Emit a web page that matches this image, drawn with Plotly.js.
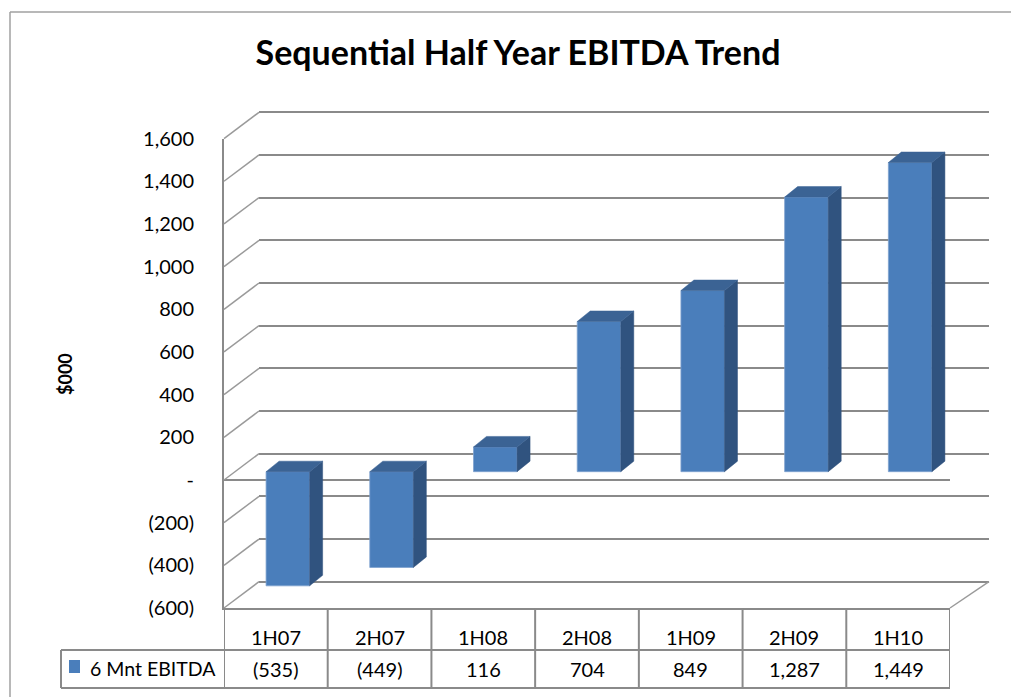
<!DOCTYPE html>
<html>
<head>
<meta charset="utf-8">
<script src="https://cdn.plot.ly/plotly-3.0.1.min.js"></script>
<style>html,body{margin:0;padding:0;background:#fff;}#chart{width:1011px;height:697px;}</style>
</head>
<body>
<div id="chart"></div>
<script>
// ---- data ----
const categories = ['1H07', '2H07', '1H08', '2H08', '1H09', '2H09', '1H10'];
const values = [-535, -449, 116, 704, 849, 1287, 1449];
const valueLabels = ['(535)', '(449)', '116', '704', '849', '1,287', '1,449'];
const tickVals = [-600, -400, -200, 0, 200, 400, 600, 800, 1000, 1200, 1400, 1600];
const tickText = ['(600)', '(400)', '(200)', '-', '200', '400', '600', '800', '1,000', '1,200', '1,400', '1,600'];
const seriesName = '6 Mnt EBITDA';
const chartTitle = 'Sequential Half Year EBITDA Trend';
const yTitle = '$000';

// ---- layout geometry (pixels) ----
const W = 1011, H = 697;
const px = x => x / W;
const py = y => 1 - y / H;
const FONT = 'Lato, "Open Sans", sans-serif';
const GRID = '#8a8a8a';
const yRange = [-600, 1600];
const front = {x0: 224, x1: 950, yb: 608, yt: 138.6};
const back = {x0: 259, x1: 989, yb: 581.7, yt: 112.3};
const mid = {x0: 236, x1: 962, yb: 599.7, yt: 130.3};
const n = categories.length;
const xRange = [-0.5, n - 0.5];

const yPix = (wall, v) => wall.yb - (v - yRange[0]) / (yRange[1] - yRange[0]) * (wall.yb - wall.yt);

// back wall axis slightly padded so the end gridlines are kept
const PAD = 10;
const backRange = [yRange[0] - PAD, yRange[1] + PAD];
const backDomain = [py(yPix(back, backRange[0])), py(yPix(back, backRange[1]))];

// bar depth in data units
const catPx = (mid.x1 - mid.x0) / n;
const unitPx = (mid.yb - mid.yt) / (yRange[1] - yRange[0]);
const DX = 13 / catPx;
const DY = 10.5 / unitPx;
const BW = 0.42;

const xs = categories.map((c, i) => i);

const topX = [], topY = [], sideX = [], sideY = [];
values.forEach((v, i) => {
  const t = Math.max(v, 0), b = Math.min(v, 0);
  const l = i - BW / 2, r = i + BW / 2;
  topX.push(l, r, r + DX, l + DX, l, null);
  topY.push(t, t, t + DY, t + DY, t, null);
  sideX.push(r, r, r + DX, r + DX, r, null);
  sideY.push(t, b, b + DY, t + DY, t, null);
});

const traces = [
  // invisible copy on the back wall so that its grid is drawn
  {type: 'scatter', mode: 'markers', x: xs, y: values, xaxis: 'x2', yaxis: 'y2',
   marker: {opacity: 0, size: 1}, hoverinfo: 'skip'},
  {type: 'bar', x: xs, y: values, width: BW, xaxis: 'x3', yaxis: 'y3',
   marker: {color: '#4a7ebb', line: {color: '#7fa2cf', width: 0.8}}, hoverinfo: 'skip', name: seriesName},
  {type: 'scatter', mode: 'lines', x: sideX, y: sideY, xaxis: 'x3', yaxis: 'y3',
   fill: 'toself', fillcolor: '#30537f', line: {color: '#30537f', width: 0.5}, hoverinfo: 'skip'},
  {type: 'scatter', mode: 'lines', x: topX, y: topY, xaxis: 'x3', yaxis: 'y3',
   fill: 'toself', fillcolor: '#3b6394', line: {color: '#3b6394', width: 0.5}, hoverinfo: 'skip'}
];

const shapes = [];
const annotations = [];
const lineStyle = {color: GRID, width: 2};

// outer border
shapes.push({type: 'line', xref: 'paper', yref: 'paper', x0: px(10), x1: px(1011), y0: py(12), y1: py(12), line: {color: '#a0a0a0', width: 1.5}});
shapes.push({type: 'line', xref: 'paper', yref: 'paper', x0: px(10), x1: px(10), y0: py(12), y1: py(697), line: {color: '#a0a0a0', width: 1.5}});

// diagonal connectors from front axis to back wall
tickVals.forEach(v => {
  shapes.push({type: 'line', xref: 'paper', yref: 'paper',
    x0: px(front.x0), y0: py(yPix(front, v)), x1: px(back.x0), y1: py(yPix(back, v)),
    line: {color: '#9a9a9a', width: 1.5}});
});
shapes.push({type: 'line', xref: 'paper', yref: 'paper',
  x0: px(front.x1), y0: py(front.yb), x1: px(back.x1), y1: py(back.yb),
  line: {color: '#9a9a9a', width: 1.5}});

// data table
const rowMid = 650, rowBot = 688;
for (let i = 0; i <= n; i++) {
  shapes.push({type: 'line', xref: 'x', yref: 'paper', x0: i - 0.5, x1: i - 0.5, y0: py(front.yb), y1: py(rowBot), line: lineStyle});
}
shapes.push({type: 'line', xref: 'paper', yref: 'paper', x0: px(61), x1: px(front.x1), y0: py(rowMid), y1: py(rowMid), line: lineStyle});
shapes.push({type: 'line', xref: 'paper', yref: 'paper', x0: px(61), x1: px(front.x1), y0: py(rowBot), y1: py(rowBot), line: lineStyle});
shapes.push({type: 'line', xref: 'paper', yref: 'paper', x0: px(61), x1: px(61), y0: py(rowMid), y1: py(rowBot), line: lineStyle});
// legend key
shapes.push({type: 'rect', xref: 'paper', yref: 'paper', x0: px(69), x1: px(80), y0: py(660), y1: py(673), fillcolor: '#4a7ebb', line: {width: 0}});

const tFont = {family: FONT, size: 20, color: '#000'};
categories.forEach((c, i) => {
  annotations.push({xref: 'x', yref: 'paper', x: i, y: py(637), text: c, showarrow: false, font: tFont, xanchor: 'center', yanchor: 'middle'});
  annotations.push({xref: 'x', yref: 'paper', x: i, y: py(669), text: valueLabels[i], showarrow: false, font: tFont, xanchor: 'center', yanchor: 'middle'});
});
annotations.push({xref: 'paper', yref: 'paper', x: px(88), y: py(668), text: seriesName, showarrow: false,
  font: {family: FONT, size: 19.5, color: '#000'}, xanchor: 'left', yanchor: 'middle'});
annotations.push({xref: 'paper', yref: 'paper', x: px(65), y: py(374), text: '<b>' + yTitle + '</b>', textangle: -90, showarrow: false,
  font: {family: FONT, size: 18, color: '#000'}, xanchor: 'center', yanchor: 'middle'});

const hidden = {showgrid: false, zeroline: false, showticklabels: false, showline: false, ticks: '', fixedrange: true};

const layout = {
  width: W, height: H,
  margin: {l: 0, r: 0, t: 0, b: 0},
  paper_bgcolor: '#ffffff', plot_bgcolor: 'rgba(0,0,0,0)',
  showlegend: false,
  title: {text: '<b>' + chartTitle + '</b>', font: {family: FONT, size: 34, color: '#000'},
    x: 518 / W, xanchor: 'center', y: py(53), yanchor: 'middle', xref: 'paper', yref: 'paper'},
  xaxis: Object.assign({}, hidden, {domain: [px(front.x0), px(front.x1)], range: xRange, anchor: 'y',
    showline: true, linecolor: GRID, linewidth: 2}),
  yaxis: {domain: [py(front.yb), py(front.yt)], range: yRange, anchor: 'x', fixedrange: true,
    showline: true, linecolor: GRID, linewidth: 2, showgrid: false,
    zeroline: true, zerolinecolor: GRID, zerolinewidth: 2,
    tickmode: 'array', tickvals: tickVals, ticktext: tickText,
    ticks: 'outside', ticklen: 24, tickcolor: 'rgba(0,0,0,0)', tickfont: tFont},
  xaxis2: Object.assign({}, hidden, {domain: [px(back.x0), px(back.x1)], range: xRange, anchor: 'y2'}),
  yaxis2: Object.assign({}, hidden, {domain: backDomain, range: backRange, anchor: 'x2',
    showgrid: true, gridcolor: GRID, gridwidth: 2, tickmode: 'array', tickvals: tickVals}),
  xaxis3: Object.assign({}, hidden, {domain: [px(mid.x0), px(mid.x1)], range: xRange, anchor: 'y3'}),
  yaxis3: Object.assign({}, hidden, {domain: [py(mid.yb), py(mid.yt)], range: yRange, anchor: 'x3'}),
  shapes: shapes,
  annotations: annotations
};

Plotly.newPlot('chart', traces, layout, {displayModeBar: false, staticPlot: true});
</script>
</body>
</html>
